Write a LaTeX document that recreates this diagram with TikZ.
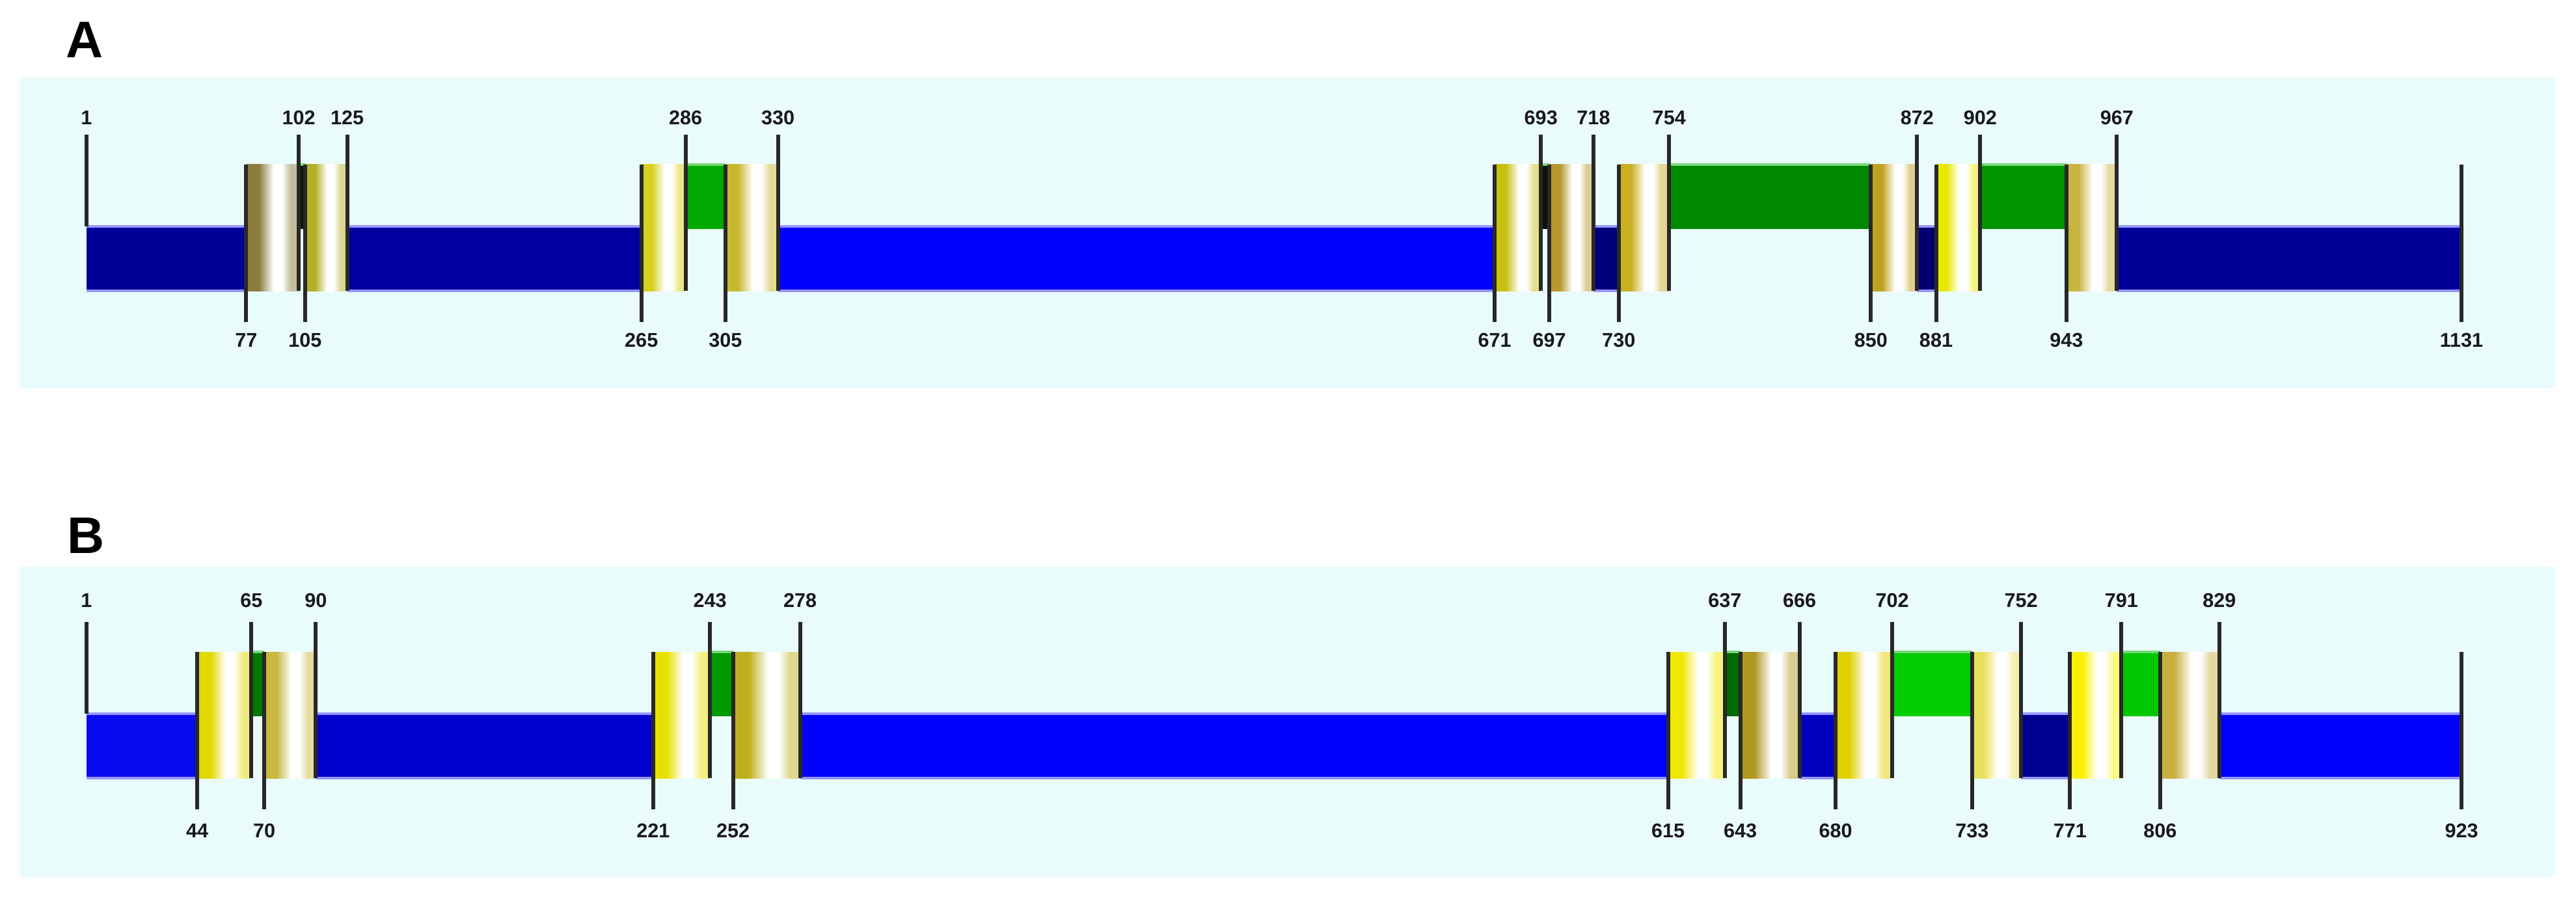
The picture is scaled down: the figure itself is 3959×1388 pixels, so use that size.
\documentclass[tikz,border=0pt]{standalone}
\usepackage{fontspec}
\setmainfont{Liberation Sans}
\definecolor{bgc}{RGB}{234,251,252}
\definecolor{edgeb}{RGB}{150,150,255}
\definecolor{edgeg}{RGB}{120,215,120}
\definecolor{tickc}{RGB}{40,40,40}
\definecolor{tmc}{HTML}{E0D800}
\colorlet{tmd}{tmc!50!white}
\pgfdeclarehorizontalshading[tmc,tmd]{tmshade}{100bp}{color(0bp)=(tmc); color(25bp)=(tmc); color(37bp)=(tmc); color(51bp)=(white); color(59bp)=(white); color(67bp)=(tmd); color(75bp)=(tmd); color(100bp)=(tmd)}
\newcommand\pX[1]{133+(#1-1)*\pk}
\tikzset{
  lab/.style={font=\fontsize{8.7}{10}\selectfont\bfseries, anchor=base, inner sep=0pt, text=black!90},
  panlab/.style={font=\fontsize{22.5}{26}\selectfont\bfseries, anchor=base, inner sep=0pt},
  tickln/.style={draw=tickc, line width=0.06cm},
  edgeln/.style={line width=0.035cm}
}
\newcommand\drawpanel[1]{%
  \foreach \a/\b/\c in \blues {
    \edef\tmp{\noexpand\definecolor{bc}{HTML}{\c}}\tmp
    \fill[bc] ({\pX{\a}},\yBarT) rectangle ({\pX{\b}},\yBarB);
    \draw[edgeln, edgeb] ({\pX{\a}},\yBarT) -- ({\pX{\b}},\yBarT) ({\pX{\a}},\yBarB) -- ({\pX{\b}},\yBarB);
  }
  \foreach \a/\b/\c in \greens {
    \edef\tmp{\noexpand\definecolor{gc}{HTML}{\c}}\tmp
    \fill[gc] ({\pX{\a}},\yBlk) rectangle ({\pX{\b}},\yBarT+4);
    \draw[edgeln, edgeg] ({\pX{\a}},\yBlk) -- ({\pX{\b}},\yBlk);
  }
  \foreach \a/\b/\c in \tms {
    \edef\tmp{\noexpand\definecolor{tmc}{HTML}{\c}}\tmp
    \colorlet{tmd}{tmc!50!white}
    \fill[shading=tmshade] ({\pX{\a}},\yBlk) rectangle ({\pX{\b}},\yBarB);
  }
  % first position: tick from top to bar top
  \draw[tickln] ({\pX{1}},\yTickT) -- ({\pX{1}},\yBarT);
  \node[lab] (#1t1) at ({\pX{1}},\yLabT) {1};
  \foreach \p in \tops {
    \draw[tickln] ({\pX{\p}},\yTickT) -- ({\pX{\p}},\yBarB);
    \node[lab] (#1t\p) at ({\pX{\p}},\yLabT) {\p};
  }
  \foreach \p in \bots {
    \draw[tickln] ({\pX{\p}},\yBlk) -- ({\pX{\p}},\yTickB);
    \node[lab] (#1b\p) at ({\pX{\p}},\yLabB) {\p};
  }
}
\begin{document}
\begin{tikzpicture}[x=0.01cm,y=-0.01cm]
\useasboundingbox (0,0) rectangle (3959,1388);
\fill[white] (0,0) rectangle (3959,1388);
% backgrounds
\fill[bgc] (30,119) rectangle (3927,597);
\fill[bgc] (30,871) rectangle (3927,1348);
% panel labels
\node[panlab] (labA) at (130,89) {A};
\node[panlab] (labB) at (132,850) {B};
% ---------- Panel A ----------
\def\pk{3.2301}
\def\yTickT{207}\def\yBlk{253}\def\yBarT{348}\def\yBarB{447}\def\yTickB{495}
\def\yLabT{192}\def\yLabB{533}
\def\blues{1/77/000099, 125/265/0000A0, 330/671/0000FF, 718/730/00007A, 872/881/000070, 967/1131/000099}
\def\greens{102/105/0A1A0A, 286/305/00A800, 693/697/0A150A, 754/850/008800, 902/943/009400}
\def\tms{77/102/8C7D3C, 105/125/B4AF28, 265/286/D8D020, 305/330/C8B830, 671/693/C8C010, 697/718/B89830, 730/754/C8B020, 850/872/C0A020, 881/902/E8E800, 943/967/C8B440}
\def\tops{102,125,286,330,693,718,754,872,902,967}
\def\bots{77,105,265,305,671,697,730,850,881,943,1131}
\drawpanel{A}
% ---------- Panel B ----------
\def\pk{3.9588}
\def\yTickT{956}\def\yBlk{1002}\def\yBarT{1097}\def\yBarB{1196}\def\yTickB{1244}
\def\yLabT{933}\def\yLabB{1287}
\def\blues{1/44/0A0AF0, 90/221/0000CC, 278/615/0000FF, 666/680/0000C0, 752/771/000090, 829/923/0000FF}
\def\greens{65/70/007A00, 243/252/009900, 637/643/006A00, 702/733/00CC00, 791/806/00C800}
\def\tms{44/65/E0D800, 70/90/C8B840, 221/243/E8E000, 252/278/C0B020, 615/637/F0E800, 643/666/B09820, 680/702/E0D000, 733/752/E8E060, 771/791/F8F000, 806/829/C8B040}
\def\tops{65,90,243,278,637,666,702,752,791,829}
\def\bots{44,70,221,252,615,643,680,733,771,806,923}
\drawpanel{B}
\end{tikzpicture}
\end{document}
